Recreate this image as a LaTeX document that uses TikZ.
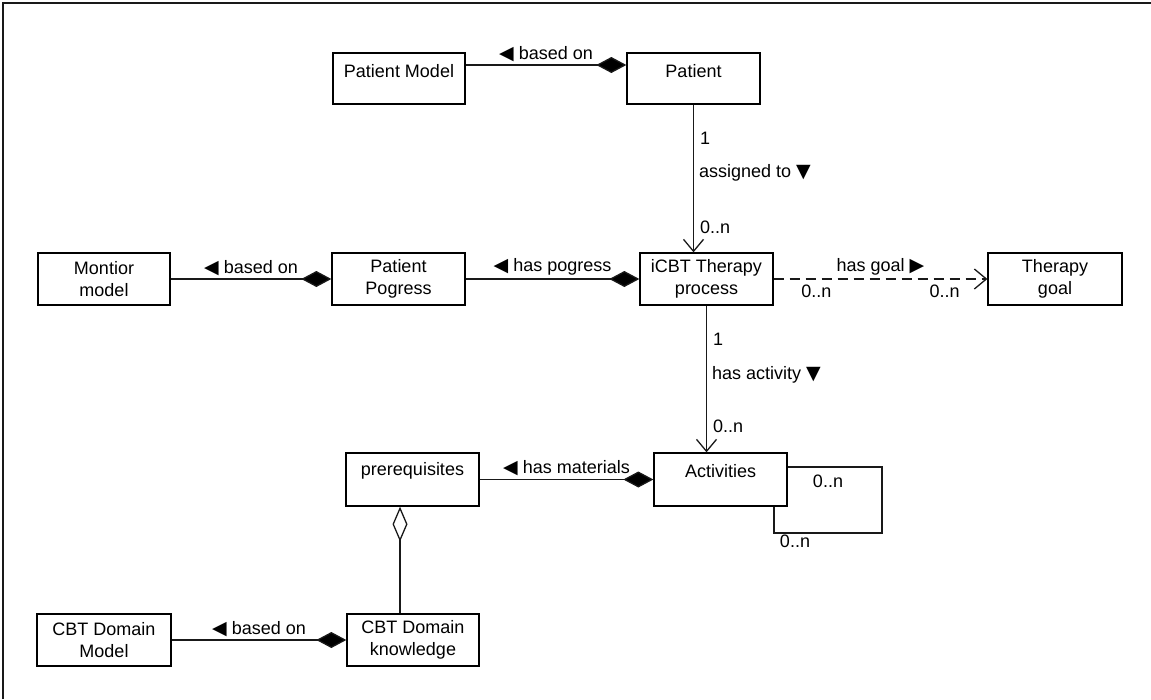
\documentclass[tikz,border=0pt]{standalone}
\usepackage{fontspec}
\setmainfont{Liberation Sans}
\newfontfamily\symfont{DejaVu Sans}
\usetikzlibrary{arrows.meta}

% small triangles used as reading-direction marks in association labels
\newcommand{\trileft}{{\symfont\fontsize{19}{19}\selectfont ◀}}
\newcommand{\triright}{{\symfont\fontsize{19}{19}\selectfont ▶}}
\newcommand{\tridown}{{\symfont\fontsize{19}{19}\selectfont ▼}}

\begin{document}
\begin{tikzpicture}[x=1pt,y=-1pt,
  cls/.style={draw=black, line width=1.3pt, fill=white, inner sep=0pt},
  txt/.style={font=\fontsize{18}{22.5}\selectfont, inner sep=0pt, align=center},
  lbl/.style={font=\fontsize{18}{20}\selectfont, inner sep=1pt},
  assoc/.style={draw=black!90, line width=1.3pt},
  comp/.style={assoc, -{Diamond[length=30pt,width=16pt,fill=black]}},
  agg/.style={assoc, -{Diamond[open,length=35pt,width=15pt,fill=white]}},
  nav/.style={assoc, -{Straight Barb[length=12pt,width=20pt]}},
  dep/.style={nav, dash pattern=on 10pt off 6pt}
]
\useasboundingbox (0,0) rectangle (1151,699);

% frame
\coordinate (fbl) at (3,699);
\coordinate (ftl) at (3,3);
\coordinate (ftr) at (1151,3);
\draw[line width=2pt, black!90] (fbl) -- (ftl) -- (ftr);

% classes
\node[cls, minimum width=132pt, minimum height=51pt] (pm) at (399,78.5) {};
\node[txt] (pmT) at (399,71) {Patient Model};
\node[cls, minimum width=133pt, minimum height=51pt] (pt) at (693.5,78.5) {};
\node[txt] (ptT) at (693.5,71) {Patient};

\node[cls, minimum width=132pt, minimum height=52pt] (mm) at (104,279) {};
\node[txt] (mmT) at (104,279) {Montior\\model};
\node[cls, minimum width=133pt, minimum height=52pt] (pp) at (398.5,279) {};
\node[txt] (ppT) at (398.5,279) {Patient\\Pogress};
\node[cls, minimum width=133pt, minimum height=52pt] (icbt) at (706.5,279) {};
\node[txt] (icbtT) at (706.5,279) {iCBT Therapy\\process};
\node[cls, minimum width=134pt, minimum height=52pt] (tg) at (1055,279) {};
\node[txt] (tgT) at (1055,279) {Therapy\\goal};

\node[cls, minimum width=133pt, minimum height=53pt] (pre) at (412.5,479.5) {};
\node[txt] (preT) at (412.5,471) {prerequisites};
\node[cls, minimum width=133pt, minimum height=53pt] (act) at (720.5,479.5) {};
\node[txt] (actT) at (720.5,471) {Activities};

\node[cls, minimum width=134pt, minimum height=52pt] (cm) at (104,640) {};
\node[txt] (cmT) at (104,640) {CBT Domain\\Model};
\node[cls, minimum width=132pt, minimum height=52pt] (ck) at (413,640) {};
\node[txt] (ckT) at (413,640) {CBT Domain\\knowledge};

% associations
\draw[comp] ([yshift=13.5pt]pm.east) -- ([yshift=13.5pt]pt.west)
  node[lbl, midway, above=2pt] {\trileft\ based on};

\draw[nav] (pt.south) -- (pt.south |- icbt.north)
  node[lbl, pos=0.23, right=5pt] {1}
  node[lbl, pos=0.46, right=4pt] {assigned to \tridown}
  node[lbl, pos=0.83, right=5pt] {0..n};

\draw[comp] (mm) -- (pp) node[lbl, midway, above=2pt] {\trileft\ based on};
\draw[comp] (pp) -- (icbt) node[lbl, midway, above=2pt] {\trileft\ has pogress};
\draw[dep] (icbt) -- (tg)
  node[lbl, midway, above=2pt] {has goal \triright}
  node[lbl, pos=0.2, below=4pt] {0..n}
  node[lbl, pos=0.8, below=4pt] {0..n};

\draw[nav] (icbt.south) -- (icbt.south |- act.north)
  node[lbl, pos=0.23, right=5pt] {1}
  node[lbl, pos=0.47, right=4pt] {has activity \tridown}
  node[lbl, pos=0.82, right=5pt] {0..n};

\draw[comp] (pre) -- (act) node[lbl, midway, above=2pt] {\trileft\ has materials};

% reflexive association on Activities
\coordinate (l1) at (882,467);
\coordinate (l2) at (882,533);
\coordinate (l3) at (774,533);
\draw[assoc] (act.east |- l1) -- (l1) -- (l2) -- (l3) -- (l3 |- act.south);
\node[lbl] (lm1) at (828,481) {0..n};
\node[lbl] (lm2) at (795,541) {0..n};

% aggregation
\coordinate (ax) at (400,0);
\draw[agg] (ck.north -| ax) -- (pre.south -| ax);

\draw[comp] (cm) -- (ck) node[lbl, midway, above=2pt] {\trileft\ based on};
\end{tikzpicture}
\end{document}
